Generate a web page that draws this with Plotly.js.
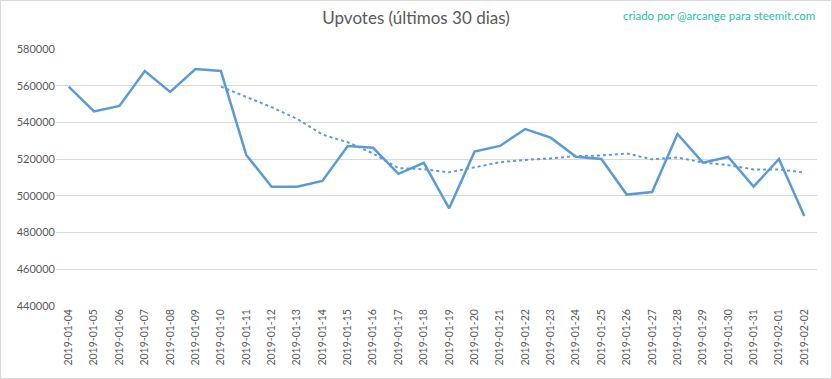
<!DOCTYPE html>
<html>
<head>
<meta charset="utf-8">
<script src="https://cdn.plot.ly/plotly-3.0.1.min.js"></script>
<style>
html,body{margin:0;padding:0;background:#fff;}
#chart{width:830px;height:377px;border:1px solid #D9D9D9;}
</style>
</head>
<body>
<div id="chart"></div>
<script>
var dates = ["2019-01-04","2019-01-05","2019-01-06","2019-01-07","2019-01-08","2019-01-09","2019-01-10","2019-01-11","2019-01-12","2019-01-13","2019-01-14","2019-01-15","2019-01-16","2019-01-17","2019-01-18","2019-01-19","2019-01-20","2019-01-21","2019-01-22","2019-01-23","2019-01-24","2019-01-25","2019-01-26","2019-01-27","2019-01-28","2019-01-29","2019-01-30","2019-01-31","2019-02-01","2019-02-02"];
var upvotes = [559500,546000,549000,568000,556600,569100,568000,522300,505000,505000,508100,527200,526200,512000,518000,493200,524100,527200,536400,531700,521300,520100,500700,502100,533700,518100,521200,505000,520100,489000];
var maDates = dates.slice(6);
var movingAvg = [559500,554100,548300,542000,533400,529200,523100,515100,514500,512800,515500,518300,519600,520400,521700,522000,523100,519900,520900,518200,516700,514400,514400,512700];
var yTicks = [440000,460000,480000,500000,520000,540000,560000,580000];

var traces = [
  {x: dates, y: upvotes, type:'scatter', mode:'lines', line:{color:'#5B9BD5', width:2.5}, hoverinfo:'x+y'},
  {x: maDates, y: movingAvg, type:'scatter', mode:'lines', line:{color:'#5B9BD5', width:2, dash:'dot'}, hoverinfo:'x+y'}
];
var layout = {
  width:830, height:377,
  margin:{l:55, r:14, t:48, b:72},
  paper_bgcolor:'#fff', plot_bgcolor:'#fff',
  showlegend:false,
  font:{family:'Lato, "Open Sans", sans-serif', color:'#595959', size:11},
  title:{text:'Upvotes (últimos 30 dias)', x:0.5, xanchor:'center', y:0.955, yanchor:'middle', font:{size:17, color:'#595959', family:'Lato, "Open Sans", sans-serif'}},
  xaxis:{type:'category', categoryorder:'array', categoryarray:dates, range:[-0.5, dates.length-0.5], tickangle:-90, showgrid:false, zeroline:false, showline:false, ticks:'', tickfont:{size:10.5, color:'#595959'}, fixedrange:true},
  yaxis:{range:[440000,580000], tickvals:yTicks, ticktext:yTicks.map(String), showgrid:true, gridcolor:'#D9D9D9', gridwidth:1, zeroline:false, showline:false, ticks:'', tickfont:{size:11, color:'#595959'}, fixedrange:true},
  annotations:[{text:'criado por @arcange para steemit.com', xref:'paper', yref:'paper', x:1, xanchor:'right', y:1, yanchor:'bottom', yshift:25, showarrow:false, font:{size:11.5, color:'#1FC4A4', family:'Lato, "Open Sans", sans-serif'}}]
};
Plotly.newPlot('chart', traces, layout, {displayModeBar:false, staticPlot:true});
</script>
</body>
</html>
